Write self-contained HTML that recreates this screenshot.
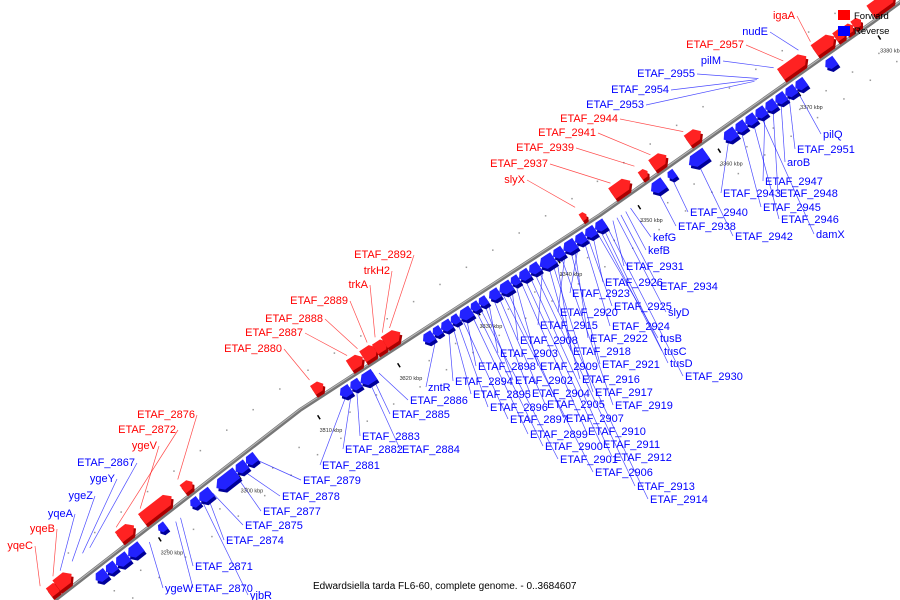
<!DOCTYPE html>
<html><head><meta charset="utf-8"><style>
body{margin:0;background:#fff}
svg{display:block;font-family:"Liberation Sans","DejaVu Sans",sans-serif}
</style></head><body>
<svg id="c" width="900" height="600" viewBox="0 0 900 600" xmlns="http://www.w3.org/2000/svg">
<g id="dots"></g>
<g id="leaders"></g>
<polyline points="55,600 300,410 600,215 873,22 910,-5" fill="none" stroke="#777" stroke-width="4"/>
<polyline points="55,599 300,409 600,214 873,21 910,-6" fill="none" stroke="#bbb" stroke-width="1"/>
<g id="ticks"></g>
<g id="genes"></g>
<g id="labels"></g>
<text x="313" y="589" font-size="10" fill="#000">Edwardsiella tarda FL6-60, complete genome. - 0..3684607</text>
<g>
<rect x="838" y="10" width="12" height="10" fill="#f00"/>
<text x="854" y="19" font-size="9.5">Forward</text>
<rect x="838" y="26" width="12" height="10" fill="#00f"/>
<text x="854" y="34" font-size="9.5">Reverse</text>
</g>
</svg>
<script>
// gene data: start kbp, end kbp
const fwdStart=[3278.1,3279.1,3286.9,3289.8,3294.8,3311,3315.6,3317.3,3318.8,3320,3344.4,3348.5,3351.9,3353.5,3357.9,3369.6,3373.8,3376.3,3377.5,3378.5,3380.8];
const fwdEnd=[3279.4,3281,3288.8,3293.5,3296,3312.3,3317.3,3319.1,3320.3,3322,3345.1,3350.8,3352.8,3355.3,3359.6,3372.8,3376.3,3377.5,3378.5,3379.5,3383.8];
const revStart=[3282.5,3283.8,3285,3286.5,3290.4,3294.4,3295.4,3297.5,3300,3301.3,3313.1,3314.4,3315.6,3323.5,3324.75,3325.75,3327,3328,3329.5,3330.5,3331.75,3333,3334.5,3335.5,3336.75,3338,3339.75,3341,3342.5,3343.75,3345,3351.9,3354.1,3356.6,3361,3362.5,3363.75,3365,3366.25,3367.5,3368.75,3370,3373.75];
const revEnd=[3283.8,3285,3286.5,3288.1,3291.3,3295.4,3296.9,3300,3301.3,3302.5,3314.4,3315.6,3317.3,3324.75,3325.75,3327,3328,3329.5,3330.5,3331.5,3333,3334.5,3335.5,3336.75,3338,3339.75,3341,3342.5,3343.75,3345,3346.25,3353.5,3355,3358.75,3362.5,3363.75,3365,3366.25,3367.5,3368.75,3370,3371.25,3375];
const tickKbp=[3290,3300,3310,3320,3330,3340,3350,3360,3370,3380];
// labels: text, color(side), text x, baseline y, anchor kbp
const upLabels=[["yqeC","r",33,549,3277.8],["yqeB","r",55,532,3279.4],["yqeA","b",73,517,3280.3],["ygeZ","b",93,499,3281.8],["ygeY","b",115,482,3283.1],["ETAF_2867","b",135,466,3284],["ygeV","r",157,449,3290.3],["ETAF_2872","r",176,433,3287.3],["ETAF_2876","r",195,418,3295],["ETAF_2880","r",282,352,3311.3],["ETAF_2887","r",303,336,3316],["ETAF_2888","r",323,322,3317.3],["ETAF_2889","r",348,304,3318.5],["trkA","r",368,288,3319.5],["trkH2","r",390,274,3320.4],["ETAF_2892","r",412,258,3321.3],["slyX","r",525,183,3344.5],["ETAF_2937","r",548,167,3349],["ETAF_2939","r",574,151,3352],["ETAF_2941","r",596,136,3354],["ETAF_2944","r",618,122,3358.1],["ETAF_2953","b",644,108,3367],["ETAF_2954","b",669,93,3367.3],["ETAF_2955","b",695,77,3367.5],["pilM","b",721,64,3369.4],["ETAF_2957","r",744,48,3370.6],["nudE","b",768,35,3372.5],["igaA","r",795,19,3374]];
const downLabels=[["ygeW",165,592,3289],["ETAF_2870",195,592,3292.3],["yjbR",250,599,3295.6],["ETAF_2871",195,570,3292.9],["ETAF_2874",226,544,3296.3],["ETAF_2875",245,529,3296.9],["ETAF_2877",263,515,3299.8],["ETAF_2878",282,500,3300.6],["ETAF_2879",303,484,3302.3],["ETAF_2881",322,469,3313.8],["ETAF_2882",345,453,3314.4],["ETAF_2883",362,440,3315],["ETAF_2884",402,453,3316.5],["ETAF_2885",392,418,3317],["ETAF_2886",410,404,3317.8],["zntR",428,391,3325],
["ETAF_2894",455,385,3326.5],["ETAF_2895",473,398,3327],["ETAF_2896",490,411,3327.6],["ETAF_2897",510,423,3328.2],["ETAF_2898",478,370,3328.7],["ETAF_2899",530,438,3329.3],["ETAF_2900",545,450,3329.9],["ETAF_2901",560,463,3330.4],["ETAF_2902",515,384,3331],["ETAF_2903",500,357,3331.5],["ETAF_2904",532,397,3332.1],["ETAF_2905",547,408,3332.7],["ETAF_2906",595,476,3333.2],["ETAF_2907",566,422,3333.8],["ETAF_2908",520,344,3334.4],["ETAF_2909",540,370,3334.9],["ETAF_2910",588,435,3335.5],["ETAF_2911",603,448,3336],["ETAF_2912",614,461,3336.6],["ETAF_2913",637,490,3337.2],["ETAF_2914",650,503,3337.7],["ETAF_2915",540,329,3338.3],["ETAF_2916",582,383,3338.9],["ETAF_2917",595,396,3339.4],["ETAF_2918",573,355,3340],["ETAF_2919",615,409,3340.5],["ETAF_2920",560,316,3341.1],["ETAF_2921",602,368,3341.7],["ETAF_2922",590,342,3342.2],["ETAF_2923",572,297,3342.8],["ETAF_2924",612,330,3343.4],["ETAF_2925",614,310,3343.9],["ETAF_2926",605,286,3344.5],["tusB",660,342,3345],["tusC",664,355,3345.4],["tusD",670,367,3345.8],["ETAF_2930",685,380,3346.2],["ETAF_2931",626,270,3347],["slyD",668,316,3347.5],["ETAF_2934",660,290,3348],["kefB",648,254,3348.6],["kefG",653,241,3349.2],["ETAF_2938",678,230,3352.5],["ETAF_2940",690,216,3354.4],["ETAF_2942",735,240,3357.5],["ETAF_2943",723,197,3361.5],["ETAF_2945",763,211,3363],["ETAF_2946",781,223,3364.5],["damX",816,238,3365.5],["ETAF_2947",765,185,3366],["ETAF_2948",780,197,3367],["aroB",787,166,3368],["ETAF_2951",797,153,3369],["pilQ",823,138,3370]];

const NS="http://www.w3.org/2000/svg";
const LP=[[55,600],[300,410],[600,215],[873,22],[910,-5]];
function xOf(k){return 150+(k-3290)*8;}
function yAt(x){for(let i=0;i<LP.length-1;i++){const a=LP[i],b=LP[i+1];if(x<=b[0]||i==LP.length-2){const t=(x-a[0])/(b[0]-a[0]);return a[1]+t*(b[1]-a[1]);}}}
function pt(k){const x=xOf(k);return [x,yAt(x)];}
function dirAt(k){const a=pt(k-0.5),b=pt(k+0.5);const dx=b[0]-a[0],dy=b[1]-a[1],l=Math.hypot(dx,dy);return [dx/l,dy/l];}
function el(tag,attrs,parent){const e=document.createElementNS(NS,tag);for(const k in attrs)e.setAttribute(k,attrs[k]);parent.appendChild(e);return e;}
const G=document.getElementById('genes'),L=document.getElementById('leaders'),T=document.getElementById('labels'),TK=document.getElementById('ticks');

function gene(s,e,fwd){
  const mid=(s+e)/2,u=dirAt(mid);let n=[u[1],-u[0]];
  const sgn=fwd?1:-1;const len=(e-s)*8;const h=Math.min(13,5+len*0.55);const d1=4;
  const a=pt(s),b=pt(e);const tip=Math.min(6,len*0.4);
  function P(p,along,off){return [p[0]+u[0]*along+n[0]*off*sgn,p[1]+u[1]*along+n[1]*off*sgn];}
  let pts;
  if(fwd){pts=[P(a,0,d1),P(b,-tip,d1),P(b,0,d1+h/2),P(b,-tip,d1+h),P(a,0,d1+h)];}
  else{pts=[P(a,tip,d1),P(b,0,d1),P(b,0,d1+h),P(a,tip,d1+h),P(a,0,d1+h/2)];}
  const str=p=>p.map(q=>q[0].toFixed(1)+','+q[1].toFixed(1)).join(' ');
  const g=el('g',{},G);
  
  
  el('polygon',{points:str(pts.map(q=>[q[0]+2,q[1]+3])),fill:fwd?'#a00':'#009'},g);
  el('polygon',{points:str(pts),fill:fwd?'#f22':'#22f'},g);
}
for(let i=0;i<fwdStart.length;i++)gene(fwdStart[i],fwdEnd[i],true);
for(let i=0;i<revStart.length;i++)gene(revStart[i],revEnd[i],false);

tickKbp.forEach(k=>{const p=pt(k),u=dirAt(k),n=[-u[1],u[0]];
  const x=p[0]+n[0]*14,y=p[1]+n[1]*14;
  const t=el('line',{x1:x,y1:y,x2:x+2.5,y2:y+4,stroke:'#000','stroke-width':1.5},TK);
  
  
  const lb=el('text',{x:x+2,y:y+17,'font-size':5.5,fill:'#333'},TK);lb.textContent=k+' kbp';
  
  
});
for(let k=3280;k<3384;k+=3.3){[-28,-45,30].forEach((off,j)=>{const p=pt(k+j),u=dirAt(k+j),n=[u[1],-u[0]];
  const d=el('rect',{x:p[0]+n[0]*off,y:p[1]+n[1]*off,width:1.5,height:1.5,fill:'#999'},document.getElementById('dots'));
  
  });}

upLabels.forEach(l=>{const col=l[1]=='r'?'#f00':'#00f';const p=pt(l[4]),u=dirAt(l[4]),n=[u[1],-u[0]];
  const ex=p[0]+n[0]*20,ey=p[1]+n[1]*20;
  const ln=el('line',{x1:l[2]+2,y1:l[3]-3,x2:ex,y2:ey,stroke:col,'stroke-width':0.7,opacity:0.7},L);
  
  
  const t=el('text',{x:l[2],y:l[3],'text-anchor':'end','font-size':11,fill:col},T);t.textContent=l[0];
  
  
});
downLabels.forEach(l=>{const p=pt(l[3]),u=dirAt(l[3]),n=[-u[1],u[0]];
  const ex=p[0]+n[0]*12,ey=p[1]+n[1]*12;
  const ln=el('line',{x1:ex,y1:ey,x2:l[1]-2,y2:l[2]-4,stroke:'#00f','stroke-width':0.7,opacity:0.7},L);
  
  
  const t=el('text',{x:l[1],y:l[2],'font-size':11,fill:'#00f'},T);t.textContent=l[0];
  
  
});
</script>
</body></html>
